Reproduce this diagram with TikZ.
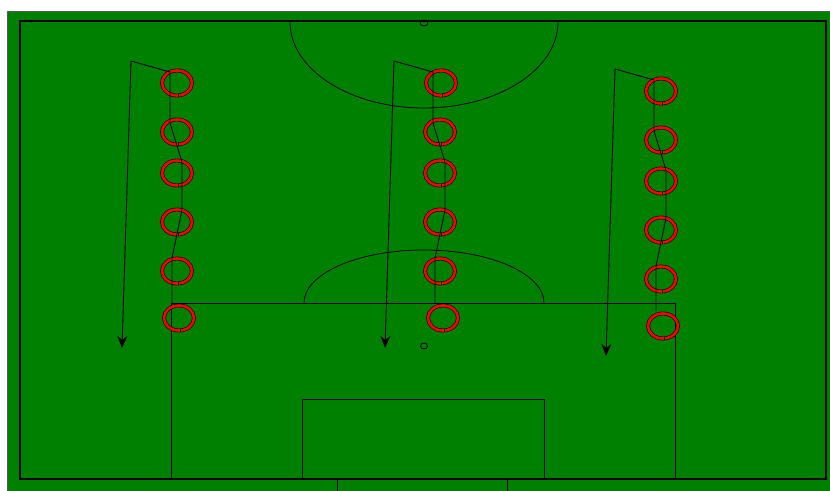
\documentclass[tikz,border=0pt]{standalone}
\usetikzlibrary{arrows.meta}
\definecolor{pitch}{RGB}{0,128,0}
\begin{document}
\begin{tikzpicture}[x=1pt,y=1pt,
  ring/.style={draw=black, line width=0.6pt, double=red, double distance=2.6pt},
  pitchline/.style={black, line width=0.8pt},
  runline/.style={black, line width=0.9pt},
  runarrow/.style={runline, -{Stealth[length=12pt,width=10pt,inset=4pt]}}]
\useasboundingbox (0,0) rectangle (830,490);
\fill[white] (0,0) rectangle (830,490);
% pitch
\filldraw[fill=pitch, draw=gray!70!black, line width=1pt] (7,-10) rectangle (845,478);
\draw[line width=1.5pt] (20,11) rectangle (826,469);
% top arc and spot
\draw[pitchline] (558,468) arc[start angle=0, end angle=-180, x radius=134, y radius=86];
\draw[pitchline] (424,467) ellipse[x radius=4, y radius=3];
% middle box line and arc
\draw[pitchline] (171,11) -- (171,187) -- (675,187) -- (675,11);
\draw[pitchline] (544,187) arc[start angle=0, end angle=180, x radius=120, y radius=53];
\draw[pitchline] (424,144) ellipse[x radius=3.5, y radius=3];
% goal area
\draw[pitchline, line width=1pt] (302,11) rectangle (544,90);
\draw[pitchline] (337.5,-5) rectangle (507.5,11);
% rings
\foreach \x/\y in {177/407,177/358,177/317,177/268,177/219,179/172,
                   441/407,440/358,440/317,440/268,440/219,443/172,
                   661/399,661/350,661/309,661/260,661/211,663/164}{
  \draw[ring] (\x,\y) ellipse[x radius=15, y radius=12.5];
  \draw[black, line width=0.8pt] (\x+1,\y-14.4) -- (\x+1,\y-10.6);
}
% run lines
\foreach \dx/\dy [count=\i] in {0/0,263/0,484/-8}{
  \coordinate (s\i) at (131+\dx,429+\dy);
  \coordinate (e\i) at (122+\dx,142+\dy);
  \draw[runarrow] (s\i) -- (e\i);
  \draw[runline] (s\i) -- ++(39,-11) -- ++(0,-51) -- ++(12,-39) -- ++(0,-48)
     -- ++(-10,-48) -- ++(0,-45);
}
\end{tikzpicture}
\end{document}
